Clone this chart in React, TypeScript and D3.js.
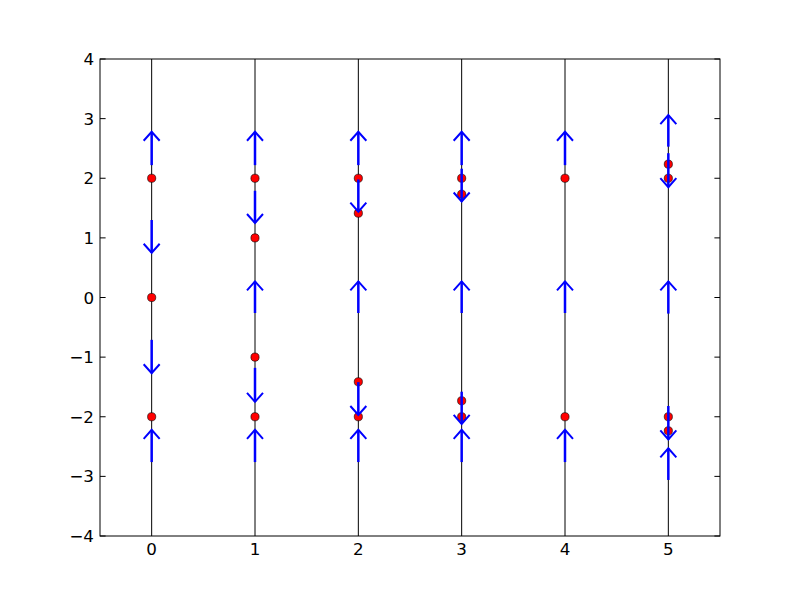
import { useEffect, useRef } from "react";
import * as d3 from "d3";

// column positions and tick labels
const columns = [0, 1, 2, 3, 4, 5];
const yTicks = [-4, -3, -2, -1, 0, 1, 2, 3, 4];

// red dots: [x, y]
const dotX = [0, 0, 0, 1, 1, 1, 1, 2, 2, 2, 2, 3, 3, 3, 3, 4, 4, 5, 5, 5, 5];
const dotY = [2, 0, -2, 2, 1, -1, -2, 2, 1.414, -1.414, -2, 2, 1.732, -1.732, -2, 2, -2, 2.236, 2, -2, -2.236];

// blue arrows: column, tail y, tip y
const arrowX = [0, 0, 0, 0, 1, 1, 1, 1, 1, 2, 2, 2, 2, 2, 3, 3, 3, 3, 3, 4, 4, 4, 5, 5, 5, 5, 5];
const arrowFrom = [2.22, 1.3, -0.71, -2.76, 2.22, 1.79, -0.26, -1.18, -2.76, 2.22, 1.98, -0.26, -1.42, -2.76, 2.22, 2.16, -0.26, -1.58, -2.76, 2.22, -0.26, -2.76, 2.53, 2.42, -0.27, -1.82, -3.06];
const arrowTo = [2.78, 0.75, -1.27, -2.22, 2.78, 1.25, 0.27, -1.75, -2.22, 2.78, 1.44, 0.27, -1.97, -2.22, 2.78, 1.61, 0.27, -2.12, -2.22, 2.78, 0.27, -2.22, 3.06, 1.85, 0.27, -2.38, -2.53];

export default function App() {
    const svgRef = useRef(null);
    const width = 800;
    const height = 595;

    useEffect(() => {
        const margin = { top: 59, right: 80, bottom: 59, left: 100 };
        const svg = d3.select(svgRef.current)
            .attr("width", width)
            .attr("height", height);

        svg.selectAll("*").remove();

        const x = d3.scaleLinear().domain([-0.5, 5.5]).range([margin.left, width - margin.right]);
        const y = d3.scaleLinear().domain([-4, 4]).range([height - margin.bottom, margin.top]);

        const font = "'DejaVu Sans', sans-serif";
        const fontSize = "16.7px";
        const fmt = (d) => String(d).replace("-", "\u2212");

        // vertical black lines
        svg.append("g")
            .selectAll("line")
            .data(columns)
            .join("line")
            .attr("x1", d => x(d)).attr("x2", d => x(d))
            .attr("y1", y(4)).attr("y2", y(-4))
            .attr("stroke", "#000")
            .attr("stroke-width", 1);

        // dots
        svg.append("g")
            .selectAll("circle")
            .data(dotX.map((d, i) => [d, dotY[i]]))
            .join("circle")
            .attr("cx", d => x(d[0]))
            .attr("cy", d => y(d[1]))
            .attr("r", 4.1)
            .attr("fill", "#ff0000")
            .attr("stroke", "#000")
            .attr("stroke-width", 0.6);

        // arrows
        const arrows = arrowX.map((d, i) => ({ x: d, from: arrowFrom[i], to: arrowTo[i] }));
        const ag = svg.append("g");
        ag.selectAll("line")
            .data(arrows)
            .join("line")
            .attr("x1", d => x(d.x)).attr("x2", d => x(d.x))
            .attr("y1", d => y(d.from))
            .attr("y2", d => y(d.to))
            .attr("stroke", "#0000ff")
            .attr("stroke-width", 2.5);
        ag.selectAll("path")
            .data(arrows)
            .join("path")
            .attr("d", d => {
                const px = x(d.x);
                const py = y(d.to);
                const dir = d.to > d.from ? 1 : -1; // 1 = pointing up
                const back = 9 * dir;
                return `M${px - 8},${py + back} L${px},${py} L${px + 8},${py + back}`;
            })
            .attr("fill", "none")
            .attr("stroke", "#0000ff")
            .attr("stroke-width", 2)
            .attr("stroke-linejoin", "miter");

        // frame
        svg.append("rect")
            .attr("x", x(-0.5)).attr("y", y(4))
            .attr("width", x(5.5) - x(-0.5))
            .attr("height", y(-4) - y(4))
            .attr("fill", "none")
            .attr("stroke", "#000")
            .attr("stroke-width", 1);

        // y ticks (inside, both sides)
        const tickLen = 5.6;
        const yt = svg.append("g");
        yt.selectAll("line.l")
            .data(yTicks)
            .join("line")
            .attr("class", "l")
            .attr("x1", x(-0.5)).attr("x2", x(-0.5) + tickLen)
            .attr("y1", d => y(d)).attr("y2", d => y(d))
            .attr("stroke", "#000");
        yt.selectAll("line.r")
            .data(yTicks)
            .join("line")
            .attr("class", "r")
            .attr("x1", x(5.5)).attr("x2", x(5.5) - tickLen)
            .attr("y1", d => y(d)).attr("y2", d => y(d))
            .attr("stroke", "#000");
        yt.selectAll("text")
            .data(yTicks)
            .join("text")
            .attr("x", x(-0.5) - 6)
            .attr("y", d => y(d))
            .attr("dy", "0.36em")
            .attr("text-anchor", "end")
            .style("font-family", font)
            .style("font-size", fontSize)
            .text(d => fmt(d));

        // x tick labels
        svg.append("g")
            .selectAll("text")
            .data(columns)
            .join("text")
            .attr("x", d => x(d))
            .attr("y", y(-4) + 18.5)
            .attr("text-anchor", "middle")
            .style("font-family", font)
            .style("font-size", fontSize)
            .text(d => fmt(d));
    }, []);

    return <svg ref={svgRef} style={{ position: "absolute", left: 0, top: 0, background: "#fff" }} />;
}
